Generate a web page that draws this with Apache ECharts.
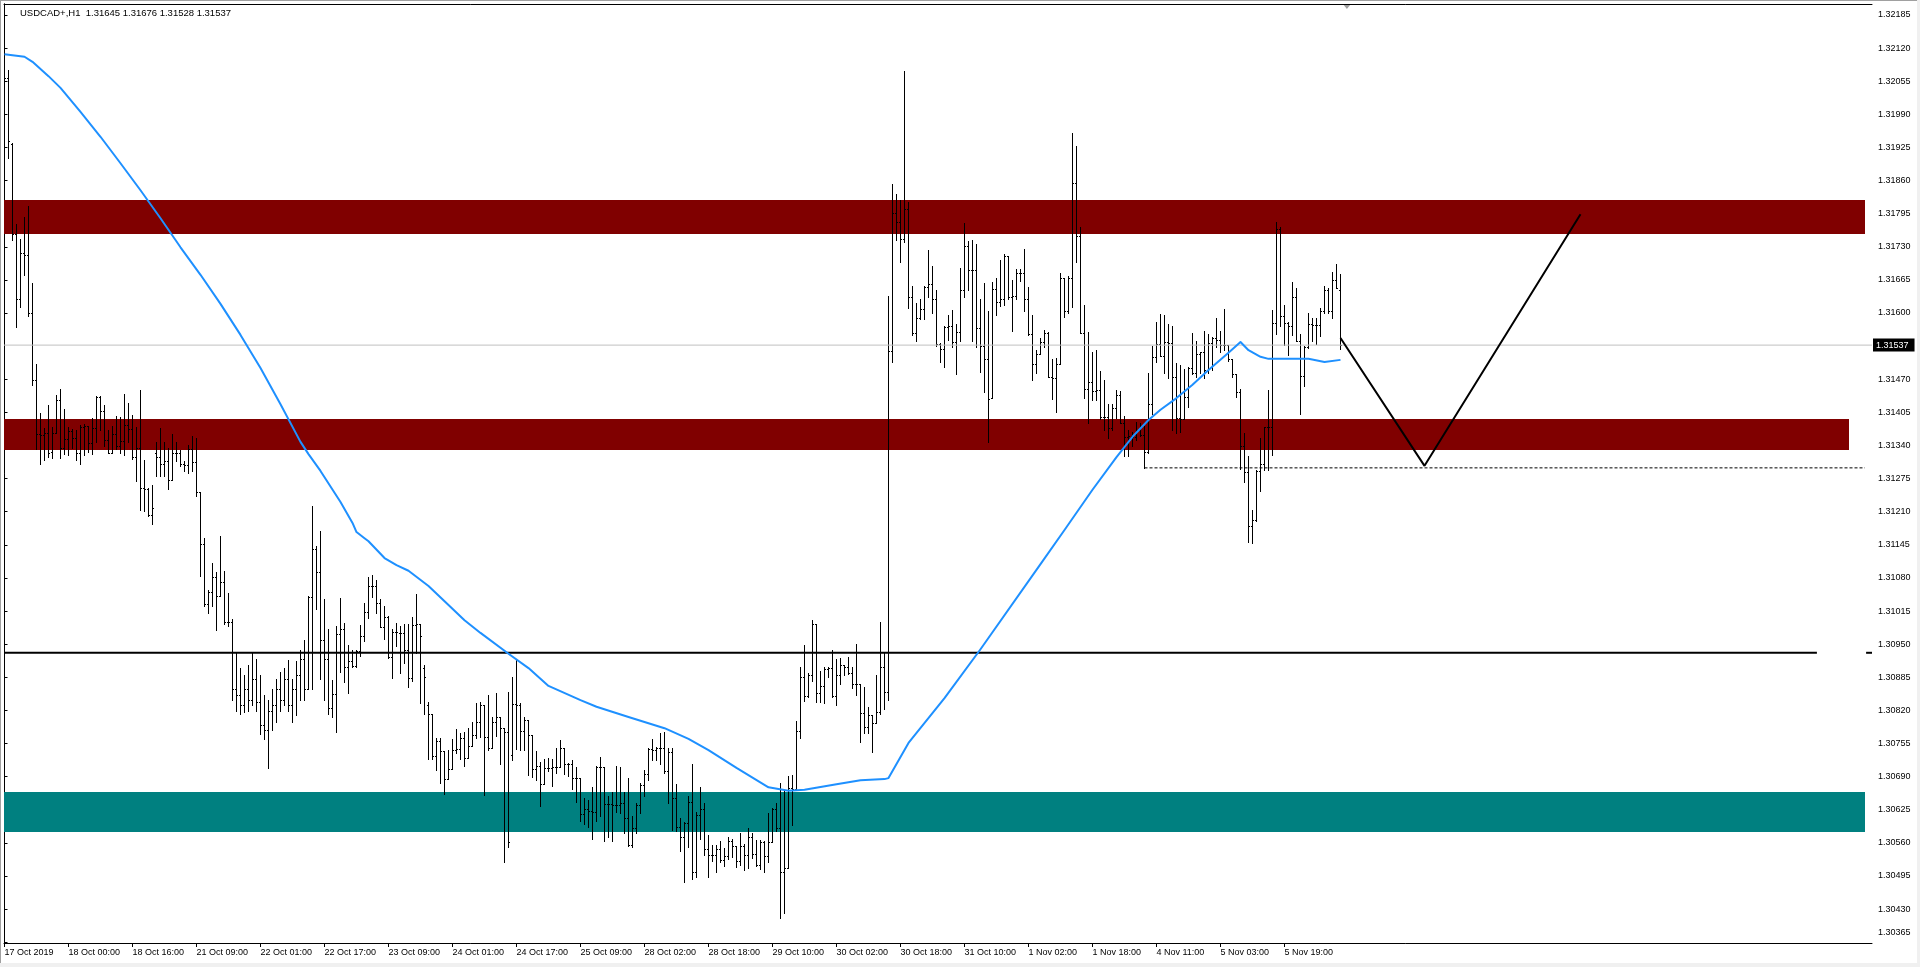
<!DOCTYPE html>
<html><head><meta charset="utf-8">
<script src="https://cdn.jsdelivr.net/npm/echarts@6/dist/echarts.min.js"></script>
<style>html,body{margin:0;padding:0;background:#fff;overflow:hidden}#c{width:1920px;height:967px}</style>
</head><body><div id="c"></div>
<script>
const symbolName = 'USDCAD+,H1';
const tickLabels = ['17 Oct 2019','18 Oct 00:00','18 Oct 16:00','21 Oct 09:00','22 Oct 01:00','22 Oct 17:00','23 Oct 09:00','24 Oct 01:00','24 Oct 17:00','25 Oct 09:00','28 Oct 02:00','28 Oct 18:00','29 Oct 10:00','30 Oct 02:00','30 Oct 18:00','31 Oct 10:00','1 Nov 02:00','1 Nov 18:00','4 Nov 11:00','5 Nov 03:00','5 Nov 19:00'];
const barsPerLabel = 16;
const priceTicks = ['1.30365','1.30430','1.30495','1.30560','1.30625','1.30690','1.30755','1.30820','1.30885','1.30950','1.31015','1.31080','1.31145','1.31210','1.31275','1.31340','1.31405','1.31470','1.31600','1.31665','1.31730','1.31795','1.31860','1.31925','1.31990','1.32055','1.32120','1.32185'];

const open = [
1.32106,1.32061,1.31930,1.31755,1.31627,1.31716,1.31712,1.31600,1.31468,1.31361,
1.31359,1.31364,1.31327,1.31364,1.31429,1.31335,1.31351,1.31368,1.31353,1.31325,
1.31376,1.31378,1.31343,1.31374,1.31435,1.31406,1.31349,1.31325,1.31361,1.31337,
1.31347,1.31380,1.31372,1.31317,1.31335,1.31256,1.31254,1.31203,1.31325,1.31317,
1.31302,1.31309,1.31272,1.31325,1.31325,1.31302,1.31300,1.31333,1.31306,1.31247,
1.31145,1.31027,1.31052,1.31080,1.31044,1.31070,1.30993,1.30993,1.30860,1.30850,
1.30830,1.30860,1.30840,1.30880,1.30836,1.30791,1.30781,1.30817,1.30830,1.30860,
1.30840,1.30880,1.30830,1.30860,1.30889,1.30919,1.30860,1.31041,1.31135,1.31090,
1.30958,1.30919,1.30823,1.30852,1.30968,1.30978,1.30905,1.30915,1.30907,1.30935,
1.30964,1.31013,1.31064,1.31064,1.31029,1.30982,1.31003,1.30923,1.30972,1.30970,
1.30970,1.30938,1.30882,1.30986,1.30988,1.30903,1.30830,1.30811,1.30730,1.30758,
1.30740,1.30685,1.30703,1.30742,1.30744,1.30764,1.30726,1.30750,1.30770,1.30797,
1.30829,1.30766,1.30746,1.30797,1.30805,1.30785,1.30777,1.30732,1.30832,1.30829,
1.30779,1.30801,1.30770,1.30703,1.30709,1.30675,1.30705,1.30705,1.30707,1.30707,
1.30746,1.30714,1.30714,1.30687,1.30687,1.30616,1.30626,1.30622,1.30620,1.30707,
1.30707,1.30636,1.30636,1.30634,1.30634,1.30638,1.30607,1.30554,1.30589,1.30634,
1.30673,1.30695,1.30744,1.30742,1.30746,1.30746,1.30699,1.30738,1.30646,1.30591,
1.30571,1.30597,1.30640,1.30501,1.30613,1.30626,1.30546,1.30536,1.30536,1.30546,
1.30526,1.30534,1.30562,1.30552,1.30524,1.30552,1.30536,1.30571,1.30538,1.30516,
1.30560,1.30534,1.30560,1.30626,1.30589,1.30501,1.30509,1.30666,1.30664,1.30779,
1.30884,1.30848,1.30888,1.30988,1.30854,1.30866,1.30901,1.30903,1.30848,1.30889,
1.30909,1.30905,1.30892,1.30870,1.30870,1.30813,1.30787,1.30809,1.30795,1.30815,
1.30905,1.30856,1.31525,1.31796,1.31777,1.31745,1.31804,1.31631,1.31559,1.31590,
1.31606,1.31651,1.31655,1.31627,1.31539,1.31529,1.31571,1.31573,1.31543,1.31561,
1.31645,1.31731,1.31684,1.31684,1.31569,1.31535,1.31508,1.31433,1.31647,1.31621,
1.31627,1.31710,1.31631,1.31633,1.31678,1.31677,1.31627,1.31557,1.31498,1.31518,
1.31543,1.31559,1.31474,1.31472,1.31498,1.31667,1.31602,1.31667,1.31855,1.31751,
1.31559,1.31449,1.31463,1.31445,1.31447,1.31394,1.31394,1.31374,1.31412,1.31439,
1.31384,1.31355,1.31357,1.31355,1.31370,1.31359,1.31327,1.31421,1.31512,1.31539,
1.31514,1.31543,1.31541,1.31474,1.31392,1.31390,1.31435,1.31492,1.31482,1.31518,
1.31522,1.31488,1.31541,1.31549,1.31547,1.31537,1.31537,1.31508,1.31480,1.31443,
1.31337,1.31286,1.31180,1.31192,1.31288,1.31302,1.31376,1.31376,1.31580,1.31763,
1.31594,1.31580,1.31573,1.31631,1.31545,1.31476,1.31533,1.31578,1.31576,1.31576,
1.31602,1.31645,1.31602,1.31663,1.31645];

const high = [
1.32110,1.32077,1.31932,1.31773,1.31745,1.31788,1.31810,1.31657,1.31498,1.31402,
1.31374,1.31419,1.31376,1.31439,1.31449,1.31410,1.31376,1.31372,1.31370,1.31380,
1.31382,1.31378,1.31392,1.31437,1.31437,1.31419,1.31370,1.31378,1.31396,1.31394,
1.31441,1.31423,1.31398,1.31376,1.31447,1.31311,1.31256,1.31262,1.31345,1.31374,
1.31345,1.31335,1.31361,1.31345,1.31331,1.31308,1.31339,1.31357,1.31353,1.31247,
1.31158,1.31056,1.31109,1.31090,1.31162,1.31092,1.31050,1.30999,1.30933,1.30903,
1.30889,1.30909,1.30933,1.30919,1.30889,1.30850,1.30840,1.30860,1.30880,1.30894,
1.30903,1.30917,1.30880,1.30915,1.30938,1.30958,1.31044,1.31221,1.31141,1.31172,
1.31037,1.30978,1.30878,1.30984,1.31039,1.30991,1.30948,1.30938,1.30938,1.30986,
1.31029,1.31080,1.31084,1.31074,1.31037,1.31023,1.31005,1.30978,1.30991,1.30984,
1.30989,1.30989,1.31003,1.31048,1.30988,1.30909,1.30836,1.30811,1.30764,1.30764,
1.30740,1.30742,1.30762,1.30783,1.30775,1.30777,1.30785,1.30797,1.30834,1.30836,
1.30829,1.30850,1.30805,1.30854,1.30805,1.30785,1.30856,1.30884,1.30919,1.30834,
1.30805,1.30801,1.30770,1.30740,1.30718,1.30724,1.30726,1.30724,1.30746,1.30760,
1.30746,1.30716,1.30721,1.30707,1.30687,1.30646,1.30644,1.30668,1.30709,1.30728,
1.30707,1.30650,1.30658,1.30709,1.30707,1.30658,1.30687,1.30611,1.30638,1.30677,
1.30701,1.30746,1.30762,1.30748,1.30775,1.30777,1.30746,1.30746,1.30675,1.30607,
1.30599,1.30650,1.30713,1.30620,1.30668,1.30638,1.30575,1.30554,1.30554,1.30562,
1.30548,1.30571,1.30567,1.30552,1.30579,1.30556,1.30589,1.30579,1.30564,1.30564,
1.30562,1.30618,1.30628,1.30638,1.30677,1.30660,1.30691,1.30693,1.30799,1.30905,
1.30948,1.30892,1.30997,1.30988,1.30896,1.30905,1.30905,1.30938,1.30919,1.30921,
1.30909,1.30923,1.30905,1.30950,1.30870,1.30864,1.30825,1.30809,1.30888,1.30993,
1.30931,1.31633,1.31853,1.31832,1.31820,1.32075,1.31816,1.31653,1.31618,1.31626,
1.31653,1.31722,1.31692,1.31645,1.31541,1.31574,1.31596,1.31604,1.31578,1.31688,
1.31775,1.31741,1.31743,1.31735,1.31627,1.31657,1.31602,1.31659,1.31667,1.31704,
1.31714,1.31710,1.31663,1.31686,1.31686,1.31725,1.31651,1.31596,1.31527,1.31549,
1.31565,1.31561,1.31508,1.31510,1.31678,1.31667,1.31671,1.31953,1.31926,1.31767,
1.31614,1.31561,1.31522,1.31527,1.31486,1.31467,1.31421,1.31421,1.31447,1.31445,
1.31396,1.31370,1.31366,1.31386,1.31384,1.31378,1.31482,1.31535,1.31582,1.31598,
1.31596,1.31578,1.31573,1.31500,1.31496,1.31490,1.31494,1.31559,1.31545,1.31522,
1.31563,1.31557,1.31551,1.31590,1.31563,1.31606,1.31537,1.31508,1.31480,1.31449,
1.31364,1.31319,1.31213,1.31290,1.31353,1.31376,1.31447,1.31604,1.31777,1.31767,
1.31614,1.31582,1.31659,1.31649,1.31557,1.31535,1.31600,1.31590,1.31590,1.31608,
1.31653,1.31649,1.31680,1.31696,1.31676];

const low = [
1.32028,1.31904,1.31743,1.31571,1.31610,1.31673,1.31594,1.31457,1.31333,1.31302,
1.31311,1.31317,1.31315,1.31364,1.31315,1.31323,1.31321,1.31335,1.31311,1.31302,
1.31321,1.31327,1.31323,1.31345,1.31370,1.31337,1.31325,1.31325,1.31333,1.31325,
1.31321,1.31345,1.31313,1.31270,1.31213,1.31211,1.31201,1.31184,1.31280,1.31280,
1.31280,1.31254,1.31272,1.31308,1.31298,1.31288,1.31284,1.31288,1.31239,1.31082,
1.31023,1.31011,1.31023,1.30976,1.31044,1.30989,1.30984,1.30840,1.30817,1.30811,
1.30815,1.30817,1.30830,1.30817,1.30772,1.30762,1.30705,1.30781,1.30797,1.30817,
1.30830,1.30817,1.30797,1.30809,1.30840,1.30840,1.30860,1.30860,1.31017,1.30880,
1.30840,1.30811,1.30805,1.30777,1.30894,1.30874,1.30854,1.30905,1.30905,1.30925,
1.30956,1.31001,1.31041,1.31011,1.30982,1.30960,1.30921,1.30882,1.30946,1.30892,
1.30911,1.30864,1.30876,1.30931,1.30834,1.30811,1.30724,1.30724,1.30701,1.30677,
1.30654,1.30685,1.30703,1.30736,1.30724,1.30709,1.30726,1.30750,1.30764,1.30766,
1.30652,1.30742,1.30746,1.30768,1.30713,1.30522,1.30550,1.30722,1.30744,1.30742,
1.30742,1.30693,1.30689,1.30683,1.30632,1.30675,1.30699,1.30671,1.30697,1.30707,
1.30695,1.30691,1.30664,1.30640,1.30601,1.30595,1.30591,1.30567,1.30601,1.30611,
1.30562,1.30571,1.30562,1.30620,1.30618,1.30579,1.30552,1.30550,1.30579,1.30618,
1.30650,1.30683,1.30721,1.30722,1.30713,1.30697,1.30638,1.30585,1.30583,1.30542,
1.30483,1.30550,1.30487,1.30491,1.30567,1.30536,1.30491,1.30524,1.30501,1.30522,
1.30514,1.30528,1.30532,1.30512,1.30516,1.30505,1.30509,1.30530,1.30514,1.30507,
1.30501,1.30522,1.30560,1.30583,1.30412,1.30422,1.30509,1.30593,1.30662,1.30764,
1.30838,1.30846,1.30876,1.30836,1.30836,1.30834,1.30885,1.30846,1.30830,1.30870,
1.30889,1.30891,1.30862,1.30850,1.30756,1.30775,1.30775,1.30738,1.30795,1.30811,
1.30821,1.30840,1.31502,1.31743,1.31700,1.31739,1.31608,1.31555,1.31545,1.31588,
1.31588,1.31631,1.31600,1.31535,1.31502,1.31494,1.31547,1.31533,1.31480,1.31545,
1.31631,1.31645,1.31545,1.31533,1.31484,1.31443,1.31345,1.31433,1.31596,1.31612,
1.31614,1.31627,1.31563,1.31626,1.31661,1.31602,1.31555,1.31468,1.31482,1.31518,
1.31533,1.31474,1.31431,1.31404,1.31498,1.31592,1.31600,1.31610,1.31700,1.31559,
1.31433,1.31384,1.31429,1.31429,1.31390,1.31370,1.31353,1.31370,1.31392,1.31384,
1.31319,1.31319,1.31337,1.31349,1.31357,1.31294,1.31325,1.31400,1.31502,1.31514,
1.31482,1.31472,1.31370,1.31364,1.31366,1.31390,1.31414,1.31480,1.31474,1.31482,
1.31472,1.31482,1.31488,1.31533,1.31522,1.31527,1.31504,1.31474,1.31435,1.31292,
1.31268,1.31150,1.31147,1.31190,1.31249,1.31290,1.31290,1.31321,1.31557,1.31573,
1.31537,1.31516,1.31555,1.31545,1.31400,1.31455,1.31531,1.31545,1.31539,1.31553,
1.31600,1.31600,1.31590,1.31649,1.31528];

const close = [
1.32061,1.31936,1.31755,1.31627,1.31716,1.31712,1.31600,1.31468,1.31362,1.31359,
1.31364,1.31325,1.31364,1.31429,1.31335,1.31351,1.31368,1.31353,1.31325,1.31376,
1.31378,1.31343,1.31374,1.31435,1.31406,1.31349,1.31325,1.31361,1.31337,1.31347,
1.31380,1.31372,1.31317,1.31335,1.31256,1.31254,1.31203,1.31217,1.31317,1.31302,
1.31309,1.31272,1.31325,1.31325,1.31302,1.31300,1.31333,1.31306,1.31247,1.31145,
1.31027,1.31052,1.31080,1.31044,1.31070,1.30993,1.30993,1.30860,1.30850,1.30830,
1.30860,1.30840,1.30880,1.30836,1.30791,1.30781,1.30817,1.30830,1.30860,1.30840,
1.30880,1.30830,1.30860,1.30889,1.30919,1.30860,1.31041,1.31135,1.31090,1.30958,
1.30919,1.30823,1.30852,1.30968,1.30978,1.30905,1.30915,1.30907,1.30935,1.30964,
1.31013,1.31064,1.31064,1.31029,1.30982,1.31003,1.30923,1.30972,1.30972,1.30970,
1.30938,1.30882,1.30986,1.30988,1.30964,1.30885,1.30811,1.30730,1.30758,1.30740,
1.30685,1.30703,1.30742,1.30744,1.30764,1.30726,1.30750,1.30770,1.30797,1.30829,
1.30766,1.30746,1.30797,1.30805,1.30785,1.30777,1.30560,1.30832,1.30829,1.30779,
1.30801,1.30770,1.30703,1.30709,1.30675,1.30705,1.30705,1.30707,1.30707,1.30746,
1.30714,1.30714,1.30687,1.30687,1.30616,1.30626,1.30622,1.30620,1.30707,1.30707,
1.30636,1.30636,1.30634,1.30634,1.30638,1.30607,1.30554,1.30589,1.30634,1.30673,
1.30695,1.30744,1.30742,1.30746,1.30746,1.30699,1.30738,1.30646,1.30591,1.30571,
1.30597,1.30640,1.30501,1.30613,1.30626,1.30546,1.30536,1.30536,1.30546,1.30526,
1.30534,1.30562,1.30552,1.30524,1.30552,1.30536,1.30571,1.30538,1.30516,1.30560,
1.30534,1.30560,1.30626,1.30589,1.30501,1.30509,1.30666,1.30664,1.30779,1.30884,
1.30848,1.30888,1.30988,1.30854,1.30866,1.30901,1.30903,1.30848,1.30889,1.30909,
1.30905,1.30892,1.30870,1.30870,1.30813,1.30787,1.30809,1.30795,1.30815,1.30905,
1.30856,1.31525,1.31796,1.31777,1.31745,1.31804,1.31631,1.31559,1.31590,1.31606,
1.31651,1.31655,1.31627,1.31539,1.31529,1.31571,1.31573,1.31543,1.31561,1.31645,
1.31731,1.31684,1.31684,1.31569,1.31535,1.31508,1.31431,1.31647,1.31621,1.31627,
1.31710,1.31631,1.31633,1.31678,1.31677,1.31627,1.31557,1.31498,1.31518,1.31543,
1.31559,1.31474,1.31472,1.31498,1.31667,1.31602,1.31667,1.31855,1.31751,1.31559,
1.31449,1.31463,1.31445,1.31447,1.31394,1.31394,1.31374,1.31412,1.31439,1.31384,
1.31355,1.31357,1.31355,1.31370,1.31359,1.31327,1.31421,1.31512,1.31539,1.31514,
1.31543,1.31541,1.31474,1.31392,1.31390,1.31435,1.31492,1.31482,1.31518,1.31522,
1.31488,1.31541,1.31549,1.31547,1.31537,1.31537,1.31508,1.31480,1.31443,1.31337,
1.31286,1.31180,1.31192,1.31288,1.31302,1.31376,1.31376,1.31580,1.31763,1.31594,
1.31580,1.31573,1.31631,1.31545,1.31476,1.31533,1.31578,1.31576,1.31576,1.31602,
1.31645,1.31602,1.31663,1.31649,1.31537];

const maIndex = [0,5,7,11,14,19,24,29,34,39,44,49,54,59,64,69,74,76,79,84,87,88,90,91,95,98,101,106,111,115,119,126,131,136,144,148,156,165,171,176,183,191,196,200,208,214,220,221,226,235,244,259,265,272,278,282,286,289,293,297,301,306,309,311,314,316,326,330,334];
const maValue = [1.32108,1.32103,1.32093,1.32065,1.32042,1.31995,1.31946,1.31894,1.31841,1.31786,1.31729,1.31675,1.31618,1.31557,1.31492,1.31421,1.31347,1.31323,1.31290,1.31229,1.31188,1.31170,1.31158,1.31152,1.31119,1.31105,1.31094,1.31064,1.31027,1.30997,1.30972,1.30931,1.30903,1.30868,1.30840,1.30827,1.30807,1.30785,1.30764,1.30742,1.30707,1.30669,1.30662,1.30664,1.30675,1.30683,1.30685,1.30687,1.30756,1.30844,1.30940,1.31107,1.31174,1.31253,1.31317,1.31357,1.31390,1.31410,1.31433,1.31459,1.31488,1.31522,1.31543,1.31527,1.31514,1.31510,1.31510,1.31504,1.31508];

const upperZone = [1.31756, 1.31822];
const middleZone = [1.31332, 1.31392];
const supportZone = [1.30582, 1.30660];
const keyLevel = 1.30933;
const dottedLevel = 1.31296;
const dottedFromBar = 285;
const projIndex = [334, 355, 394];
const projPrice = [1.31551, 1.31300, 1.31794];

// ---------- layout ----------
const GL = 4, GT = 4, GW = 1868, GH = 939;
const X_MIN = -0.125, X_MAX = 466.875;
const Y_MIN = 1.303633, Y_MAX = 1.322066;
const FONT = 'Liberation Sans';
const last = open.length - 1;
const bid = close[last];

const barData = open.map((o, i) => [i, o, high[i], low[i], close[i]]);
const zoneData = [
  [X_MIN, 465.1, upperZone[0], upperZone[1], 0],
  [X_MIN, 461.1, middleZone[0], middleZone[1], 0],
  [X_MIN, 465.1, supportZone[0], supportZone[1], 1]
];
const zoneColors = ['#800000', '#008080'];
const xTickValues = tickLabels.map((_, k) => k * barsPerLabel);
const yTickValues = priceTicks.map(Number);

const chart = echarts.init(document.getElementById('c'), null, {renderer: 'canvas'});

chart.setOption({
  animation: false,
  backgroundColor: '#ffffff',
  grid: {left: GL, top: GT, width: GW, height: GH, show: false},
  xAxis: [{
    type: 'value', min: X_MIN, max: X_MAX, position: 'bottom',
    axisLine: {show: true, lineStyle: {color: '#000', width: 1}},
    axisTick: {show: true, length: 4, customValues: xTickValues, lineStyle: {color: '#000'}},
    axisLabel: {
      customValues: xTickValues, color: '#000', fontSize: 9, fontFamily: FONT,
      align: 'left', margin: 5,
      formatter: v => tickLabels[Math.round(v / barsPerLabel)] || ''
    },
    splitLine: {show: false}
  }, {
    type: 'value', min: X_MIN, max: X_MAX, position: 'top',
    axisLine: {show: true, lineStyle: {color: '#000', width: 1}},
    axisTick: {show: false}, axisLabel: {show: false}, splitLine: {show: false}
  }],
  yAxis: [{
    type: 'value', min: Y_MIN, max: Y_MAX, position: 'right',
    axisLine: {show: true, lineStyle: {color: '#000', width: 1}},
    axisTick: {show: true, length: 3, customValues: yTickValues, lineStyle: {color: '#000'}},
    axisLabel: {
      customValues: yTickValues, color: '#000', fontSize: 9, fontFamily: FONT,
      margin: 6, lineHeight: 20,
      formatter: v => { const s = v.toFixed(5); return s === priceTicks[0] ? s + '\n\u00a0' : s; }
    },
    splitLine: {show: false}
  }, {
    type: 'value', min: Y_MIN, max: Y_MAX, position: 'left',
    axisLine: {show: true, lineStyle: {color: '#000', width: 1}},
    axisTick: {show: false}, axisLabel: {show: false}, splitLine: {show: false}
  }],
  series: [
    {
      type: 'custom', name: 'zones', clip: true, silent: true,
      data: zoneData,
      renderItem: (params, api) => {
        const a = api.coord([api.value(0), api.value(3)]);
        const b = api.coord([api.value(1), api.value(2)]);
        return {type: 'rect',
          shape: {x: Math.round(a[0]), y: Math.round(a[1]), width: Math.round(b[0]) - Math.round(a[0]), height: Math.round(b[1]) - Math.round(a[1])},
          style: {fill: zoneColors[api.value(4)]}};
      }
    },
    {
      type: 'line', name: 'bid', silent: true, symbol: 'none', clip: false,
      data: [[X_MIN, bid], [X_MAX, bid]],
      lineStyle: {color: '#c0c0c0', width: 1},
      endLabel: {show: true, distance: 1, formatter: () => bid.toFixed(5),
        color: '#fff', backgroundColor: '#000', padding: [2, 6, 1, 3], lineHeight: 10,
        fontSize: 9, fontFamily: FONT}
    },
    {
      type: 'line', name: 'level', silent: true, symbol: 'none',
      data: [[X_MIN, keyLevel], [453.1, keyLevel]],
      lineStyle: {color: '#000', width: 2}
    },
    {
      type: 'line', name: 'levelMark', silent: true, symbol: 'none',
      data: [[465.4, keyLevel], [X_MAX, keyLevel]],
      lineStyle: {color: '#000', width: 2}
    },
    {
      type: 'line', name: 'dotted', silent: true, symbol: 'none',
      data: [[dottedFromBar, dottedLevel], [465.1, dottedLevel]],
      lineStyle: {color: '#000', width: 1, type: [3, 2]}
    },
    {
      type: 'custom', name: 'bars', clip: true, silent: true,
      data: barData,
      encode: {x: 0, y: [1, 2, 3, 4]},
      renderItem: (params, api) => {
        const i = api.value(0);
        const pO = api.coord([i, api.value(1)]);
        const pH = api.coord([i, api.value(2)]);
        const pL = api.coord([i, api.value(3)]);
        const pC = api.coord([i, api.value(4)]);
        const x = Math.floor(pH[0]);
        const yH = Math.round(pH[1] - 0.5), yL = Math.round(pL[1] - 0.5);
        const yO = Math.round(pO[1] - 0.5), yC = Math.round(pC[1] - 0.5);
        const st = {fill: '#000'};
        return {type: 'group', children: [
          {type: 'rect', shape: {x: x, y: yH, width: 1, height: Math.max(1, yL - yH + 1)}, style: st},
          {type: 'rect', shape: {x: x - 1, y: yO, width: 1, height: 1}, style: st},
          {type: 'rect', shape: {x: x + 1, y: yC, width: 1, height: 1}, style: st}
        ]};
      }
    },
    {
      type: 'line', name: 'MA', silent: true, symbol: 'none', smooth: false,
      data: maIndex.map((x, k) => [x, maValue[k]]),
      lineStyle: {color: '#1E90FF', width: 2, join: 'round'}
    },
    {
      type: 'line', name: 'projection', silent: true, symbol: 'none',
      data: projIndex.map((x, k) => [x, projPrice[k]]),
      lineStyle: {color: '#000', width: 2}
    }
  ],
  graphic: [
    {type: 'polygon', silent: true, shape: {points: [[10, 11], [16, 11], [13, 15]]}, style: {fill: '#000'}},
    {type: 'text', silent: true, x: 20, y: 13,
      style: {text: symbolName + '  ' + [open[last], high[last], low[last], close[last]].map(v => v.toFixed(5)).join(' '),
        fill: '#000', font: '9.5px "' + FONT + '"', verticalAlign: 'middle'}},
    {type: 'rect', silent: true, shape: {x: 0, y: 0, width: 1, height: 967}, style: {fill: '#a0a0a0'}},
    {type: 'rect', silent: true, shape: {x: 0, y: 0, width: 1920, height: 1}, style: {fill: '#a0a0a0'}},
    {type: 'rect', silent: true, shape: {x: 1917, y: 0, width: 3, height: 967}, style: {fill: '#f0f0f0'}},
    {type: 'rect', silent: true, shape: {x: 0, y: 963, width: 1920, height: 4}, style: {fill: '#f0f0f0'}}
  ]
});

const shiftX = chart.convertToPixel({xAxisIndex: 0}, last + 1.6);
chart.setOption({graphic: [{type: 'polygon', silent: true,
  shape: {points: [[shiftX - 4, GT], [shiftX + 4, GT], [shiftX, GT + 5]]}, style: {fill: '#a0a0a0'}}]});
</script></body></html>
